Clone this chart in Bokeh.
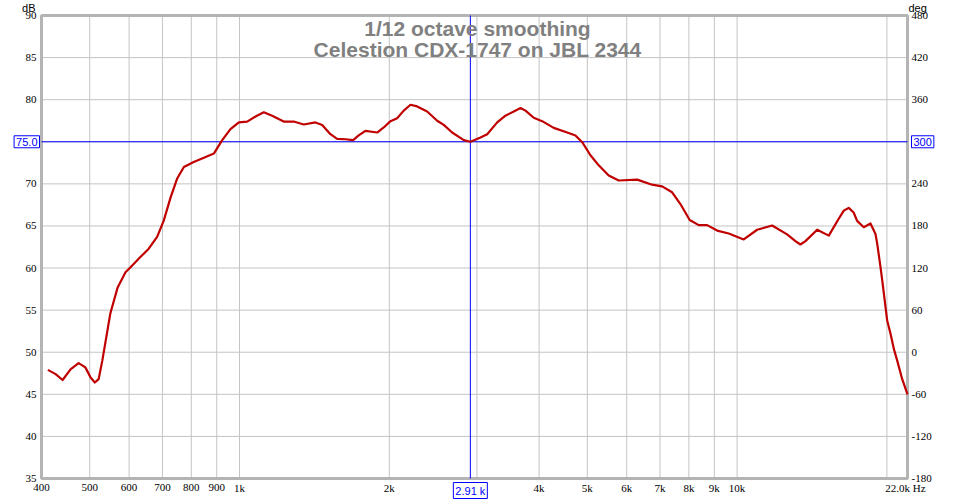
from bokeh.plotting import figure
from bokeh.models import Range1d, Label
from bokeh.embed import file_html
from bokeh.resources import INLINE

# ---- data ----
freq_hz = [412, 427, 441, 458, 475, 490, 502, 512, 521, 530, 550, 569, 590, 604, 632,
           657, 683, 704, 727, 749, 773, 809, 848, 888, 923, 959, 997, 1036, 1077, 1119,
           1163, 1227, 1285, 1346, 1421, 1466, 1523, 1571, 1633, 1692, 1736, 1791, 1891,
           1949, 2011, 2074, 2138, 2206, 2275, 2383, 2496, 2573, 2675, 2823, 2912, 3050,
           3146, 3295, 3423, 3558, 3670, 3756, 3902, 4057, 4280, 4556, 4733, 4883, 5073,
           5271, 5520, 5782, 6297, 6748, 7068, 7403, 7693, 8030, 8373, 8704, 9116, 9620,
           10312, 10971, 11759, 12603, 13097, 13403, 13719, 14486, 15284, 16003, 16372,
           16761, 17147, 17425, 17971, 18535, 18972, 19122, 19418, 19575, 19873, 20021,
           20338, 20652, 20978, 21469, 22000]
spl_db = [47.9, 47.4, 46.7, 48.0, 48.7, 48.2, 47.0, 46.4, 46.8, 49.0, 54.6, 57.7, 59.5,
          60.1, 61.3, 62.3, 63.7, 65.6, 68.4, 70.6, 72.0, 72.6, 73.1, 73.6, 75.2, 76.5,
          77.3, 77.4, 78.0, 78.5, 78.1, 77.4, 77.4, 77.05, 77.3, 77.0, 75.9, 75.35, 75.3,
          75.2, 75.75, 76.3, 76.1, 76.7, 77.45, 77.8, 78.7, 79.4, 79.2, 78.6, 77.5, 77.0,
          76.1, 75.2, 75.0, 75.5, 75.9, 77.3, 78.1, 78.6, 79.0, 78.7, 77.85, 77.45, 76.65,
          76.1, 75.75, 74.95, 73.4, 72.2, 71.0, 70.4, 70.5, 69.9, 69.7, 69.0, 67.6, 65.7,
          65.1, 65.1, 64.45, 64.1, 63.4, 64.55, 65.05, 64.0, 63.2, 62.8, 63.2, 64.55,
          63.85, 65.85, 66.8, 67.15, 66.6, 65.6, 64.85, 65.3, 64.05, 62.9, 60.1, 58.5,
          55.35, 53.8, 52.2, 50.4, 49.0, 46.8, 45.0]

x_ticks = [400, 500, 600, 700, 800, 900, 1000, 2000, 4000, 5000, 6000, 7000, 8000,
           9000, 10000]
x_labels = ["400", "500", "600", "700", "800", "900", "1k", "2k", "4k", "5k", "6k",
            "7k", "8k", "9k", "10k"]
x_end_label = "22.0k Hz"
x_grid = [500, 600, 700, 800, 900, 1000, 2000, 3000, 4000, 5000, 6000, 7000, 8000,
          9000, 10000, 20000]
db_ticks = [35, 40, 45, 50, 55, 60, 65, 70, 80, 85, 90]
db_grid = [40, 45, 50, 55, 60, 65, 70, 75, 80, 85]
deg_ticks = [-180, -120, -60, 0, 60, 120, 180, 240, 360, 420, 480]

f_min, f_max = 400, 22000
db_min, db_max = 35, 90
deg_min, deg_max = -180, 480

cursor_freq = 2910
cursor_db = 75.0
cursor_deg = 300
cursor_freq_label = "2.91 k"

title_1 = "1/12 octave smoothing"
title_2 = "Celestion CDX-1747  on JBL 2344"

# ---- layout (pixels of the 958x499 canvas) ----
W, H = 958, 499
PL, PR, PT, PB = 41, 907, 15, 478          # plot-area box
FONT = "Liberation Sans"
BLUE = "#0000ff"
GRID = "#c4c4c4"

# ranges chosen so that the plot-area box lands on PL..PR / PT..PB
span = f_max / f_min
x_start = f_min * span ** ((0 - PL) / (PR - PL))
x_end = f_min * span ** ((W - PL) / (PR - PL))
db_per_px = (db_max - db_min) / (PB - PT)
y_start = db_min - (H - PB) * db_per_px
y_end = db_max + PT * db_per_px
deg_per_px = (deg_max - deg_min) / (PB - PT)

p = figure(width=W, height=H, x_axis_type="log",
           x_range=Range1d(x_start, x_end), y_range=Range1d(y_start, y_end),
           output_backend="svg", toolbar_location=None,
           min_border=0, min_border_left=0, min_border_right=0,
           min_border_top=0, min_border_bottom=0)
p.extra_y_ranges = {"deg": Range1d(deg_min - (H - PB) * deg_per_px,
                                   deg_max + PT * deg_per_px)}
p.axis.visible = False
p.grid.visible = False
p.outline_line_color = None
p.background_fill_color = "white"
p.border_fill_color = "white"

# grid
p.segment(x0=x_grid, y0=[db_min] * len(x_grid), x1=x_grid, y1=[db_max] * len(x_grid),
          line_color=GRID, line_width=1)
p.segment(x0=[f_min] * len(db_grid), y0=db_grid, x1=[f_max] * len(db_grid), y1=db_grid,
          line_color=GRID, line_width=1)

# plot-area frame
p.quad(left=[f_min], right=[f_max], bottom=[db_min], top=[db_max],
       fill_color=None, line_color="#b4b4b4", line_width=3)

# cursors
p.segment(x0=[cursor_freq], y0=[db_min], x1=[cursor_freq], y1=[db_max],
          line_color=BLUE, line_width=1)
p.segment(x0=[f_min], y0=[cursor_db], x1=[f_max], y1=[cursor_db],
          line_color=BLUE, line_width=1)

# curve
p.line(freq_hz, spl_db, line_color="#c00000", line_width=2.2, line_join="round")

# tick labels
tk = dict(text_font=FONT, text_font_size="11px", text_color="#000000")
p.text(x=x_ticks, y=[db_min] * len(x_ticks), text=x_labels, y_offset=9,
       text_align="center", text_baseline="middle", **tk)
p.text(x=[f_max], y=[db_min], text=[x_end_label], y_offset=9, x_offset=-2,
       text_align="center", text_baseline="middle", **tk)
p.text(x=[f_min] * len(db_ticks), y=db_ticks, text=[str(v) for v in db_ticks],
       x_offset=-5, text_align="right", text_baseline="middle", **tk)
p.text(x=[f_max] * len(deg_ticks), y=deg_ticks, text=[str(v) for v in deg_ticks],
       x_offset=4, text_align="left", text_baseline="middle", y_range_name="deg", **tk)

# unit labels
p.add_layout(Label(x=35, y=H - 1, x_units="screen", y_units="screen", text="dB",
                   text_align="right", text_baseline="top", **tk))
p.add_layout(Label(x=908, y=H - 1, x_units="screen", y_units="screen", text="deg",
                   text_align="left", text_baseline="top", **tk))

# cursor value boxes
box = dict(text_font=FONT, text_font_size="11px", text_color=BLUE,
           border_line_color=BLUE, border_line_width=1,
           background_fill_color="white", padding=2)
p.add_layout(Label(x=f_min, y=cursor_db, x_offset=-2, text=f"{cursor_db:.1f}",
                   text_align="right", text_baseline="middle", **box))
p.add_layout(Label(x=f_max, y=cursor_db, x_offset=4, text=str(cursor_deg),
                   text_align="left", text_baseline="middle", **box))
p.add_layout(Label(x=cursor_freq, y=db_min, y_offset=-4, text=cursor_freq_label,
                   text_align="center", text_baseline="top", **box))

# title
tt = dict(text_align="center", text_baseline="middle", text_font=FONT,
          text_font_size="21px", text_font_style="bold", text_color="#808080")
p.add_layout(Label(x=477, y=H - 27.5, x_units="screen", y_units="screen",
                   text=title_1, **tt))
p.add_layout(Label(x=480, y=H - 49, x_units="screen", y_units="screen",
                   text=title_2, **tt))

open("out.html", "w").write(file_html(p, INLINE))
